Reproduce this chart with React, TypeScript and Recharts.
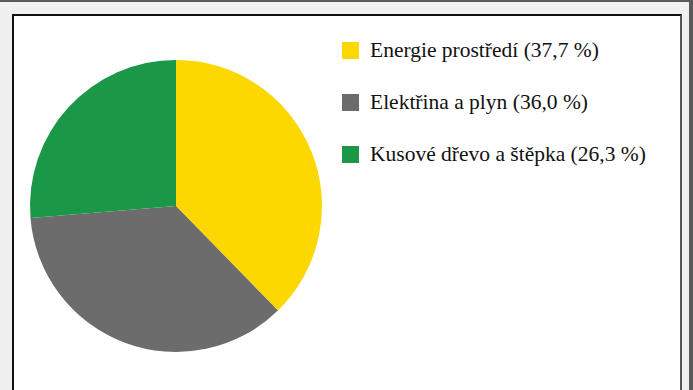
import { PieChart, Pie, Cell, Legend } from 'recharts';

const categories = ['Energie prostředí', 'Elektřina a plyn', 'Kusové dřevo a štěpka'];
const shares = [37.7, 36.0, 26.3];
const colors = ['#fcd800', '#6c6c6c', '#1b9847'];

const data = categories.map((name, i) => ({ name, value: shares[i] }));

const fmt = (v: number) => v.toFixed(1).replace('.', ',') + ' %';

const LegendList = () => (
  <div>
    {data.map((d, i) => (
      <div key={d.name} style={{ display: 'flex', alignItems: 'center', height: 17, marginBottom: 35 }}>
        <span style={{ width: 17, height: 17, background: colors[i], display: 'inline-block', marginRight: 11, flexShrink: 0 }} />
        <span style={{ fontFamily: '"Liberation Serif", serif', fontSize: 21.5, color: '#111', whiteSpace: 'nowrap' }}>
          {d.name} ({fmt(d.value)})
        </span>
      </div>
    ))}
  </div>
);

export default function App() {
  return (
    <div style={{ position: 'fixed', left: 0, top: 0, width: 693, height: 390, background: '#f0f0f0', overflow: 'hidden' }}>
      <div style={{ position: 'absolute', left: 0, top: 0, width: 693, height: 2, background: '#5a5a5a' }} />
      <div style={{ position: 'absolute', left: 689, top: 0, width: 4, height: 390, background: '#5a5a5a' }} />
      <div
        style={{
          position: 'absolute',
          left: 12,
          top: 14,
          width: 666,
          height: 400,
          background: '#fff',
          borderLeft: '2px solid #111',
          borderTop: '2px solid #111',
          borderRight: '2px solid #555',
        }}
      />
      <div style={{ position: 'absolute', left: 0, top: 0 }}>
        <PieChart width={693} height={390} margin={{ top: 0, right: 0, bottom: 0, left: 0 }}>
          <Pie
            data={data}
            dataKey="value"
            nameKey="name"
            cx={176}
            cy={206}
            outerRadius={146}
            startAngle={90}
            endAngle={-270}
            stroke="none"
            isAnimationActive={false}
          >
            {data.map((d, i) => (
              <Cell key={d.name} fill={colors[i]} />
            ))}
          </Pie>
          <Legend
            content={() => <LegendList />}
            wrapperStyle={{ position: 'absolute', left: 342, top: 42, width: 330 }}
          />
        </PieChart>
      </div>
    </div>
  );
}
